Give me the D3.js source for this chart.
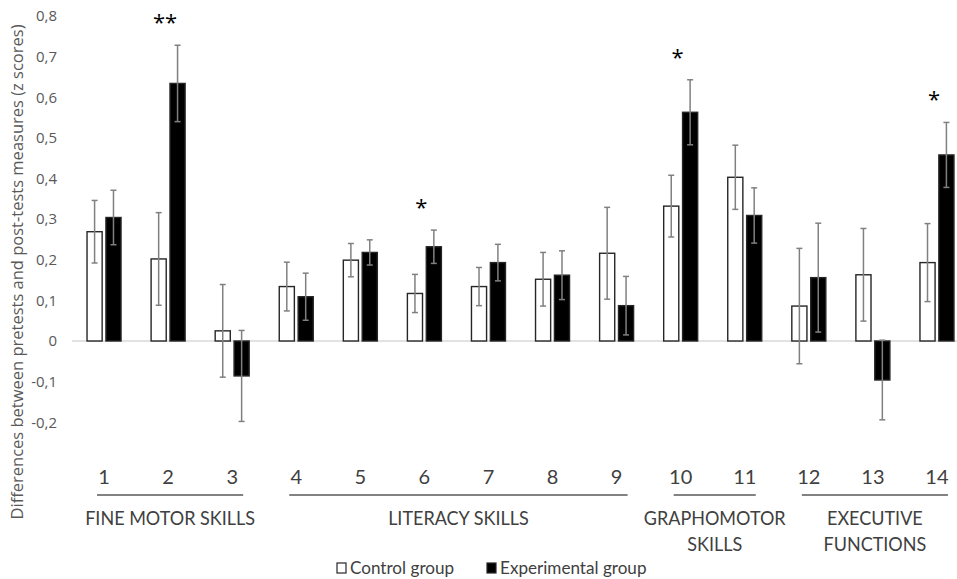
<!DOCTYPE html>
<html>
<head>
<meta charset="utf-8">
<script src="https://cdn.jsdelivr.net/npm/d3@7"></script>
<style>
  body { margin: 0; background: #fff; }
  svg { display: block; }
</style>
</head>
<body>
<div id="chart"></div>
<script>
// valores (z scores)
const categories = ["1", "2", "3", "4", "5", "6", "7", "8", "9", "10", "11", "12", "13", "14"];
const controlMeans = [0.269, 0.202, 0.025, 0.134, 0.199, 0.117, 0.134, 0.152, 0.216, 0.332, 0.403, 0.086, 0.163, 0.193];
const controlErrors = [0.077, 0.114, 0.114, 0.060, 0.041, 0.047, 0.047, 0.066, 0.113, 0.076, 0.079, 0.142, 0.114, 0.096];
const experimentalMeans = [0.304, 0.634, -0.086, 0.109, 0.218, 0.232, 0.193, 0.162, 0.087, 0.563, 0.309, 0.156, -0.096, 0.458];
const experimentalErrors = [0.067, 0.094, 0.112, 0.058, 0.031, 0.041, 0.045, 0.060, 0.072, 0.080, 0.068, 0.134, 0.098, 0.080];
const seriesNames = ["Control group", "Experimental group"];
const yTicks = [-0.2, -0.1, 0, 0.1, 0.2, 0.3, 0.4, 0.5, 0.6, 0.7, 0.8];
const groupLabels = [["FINE MOTOR SKILLS"], ["LITERACY SKILLS"], ["GRAPHOMOTOR", "SKILLS"], ["EXECUTIVE", "FUNCTIONS"]];
const groupFirst = ["1", "4", "10", "12"];
const groupLast = ["3", "9", "11", "14"];
const sigCategories = ["2", "6", "10", "14"];
const sigMarks = ["**", "*", "*", "*"];
const yTitle = "Differences between pretests and post-tests measures (z scores)";

const ancho = 957;
const alto = 579;
const gris = "#595959";

const filas = categories.map((c, i) => ({
	cat: c,
	valores: [
		{ serie: seriesNames[0], media: controlMeans[i], err: controlErrors[i] },
		{ serie: seriesNames[1], media: experimentalMeans[i], err: experimentalErrors[i] }
	]
}));

const x0 = d3.scaleBand()
	.domain(categories)
	.range([72, 969]);

const x1 = d3.scaleBand()
	.domain(seriesNames)
	.range([x0.bandwidth() / 2 - 17, x0.bandwidth() / 2 + 17])
	.paddingInner(0.2);

const yScale = d3.scaleLinear()
	.domain([-0.2, 0.8])
	.range([422.25, 16]);

const color = d3.scaleOrdinal().domain(seriesNames).range(["#ffffff", "#000000"]);

const svg = d3.select("#chart")
	.append("svg")
	.attr("width", ancho)
	.attr("height", alto)
	.attr("viewBox", `0 0 ${ancho} ${alto}`);

svg.append("rect").attr("width", ancho).attr("height", alto).attr("fill", "#fff");

// estrecha un texto para imitar la fuente condensada del original
function estrechar(sel, factor) {
	sel.each(function () {
		const w = this.getComputedTextLength();
		d3.select(this).attr("textLength", w * factor).attr("lengthAdjust", "spacingAndGlyphs");
	});
}

// eje Y, sin linea, con coma decimal
const fmt = v => Math.abs(v) < 1e-9 ? "0" : v.toFixed(1).replace(".", ",");
svg.append("g")
	.attr("transform", "translate(72,0)")
	.call(d3.axisLeft(yScale).tickValues(yTicks).tickFormat(fmt).tickSize(0).tickPadding(15))
	.call(g => g.select(".domain").remove())
	.selectAll("text")
	.attr("fill", gris)
	.style("font-family", "'Open Sans', sans-serif")
	.style("font-size", "15px");

// linea del cero
svg.append("line")
	.attr("x1", 72).attr("x2", ancho)
	.attr("y1", yScale(0)).attr("y2", yScale(0))
	.attr("stroke", "#d9d9d9")
	.attr("stroke-width", 1.5);

const grupos = svg.append("g")
	.selectAll("g")
	.data(filas)
	.join("g")
	.attr("transform", d => `translate(${x0(d.cat)},0)`);

grupos.selectAll("rect")
	.data(d => d.valores)
	.join("rect")
	.attr("x", d => x1(d.serie))
	.attr("y", d => yScale(Math.max(0, d.media)))
	.attr("width", x1.bandwidth())
	.attr("height", d => Math.abs(yScale(d.media) - yScale(0)))
	.attr("fill", d => color(d.serie))
	.attr("stroke", "#262626")
	.attr("stroke-width", 1.4);

// barras de error
const errG = grupos.selectAll("g.err")
	.data(d => d.valores)
	.join("g")
	.attr("class", "err")
	.attr("stroke", "#808080")
	.attr("stroke-width", 1.5);

errG.append("line")
	.attr("x1", d => x1(d.serie) + x1.bandwidth() / 2)
	.attr("x2", d => x1(d.serie) + x1.bandwidth() / 2)
	.attr("y1", d => yScale(d.media + d.err))
	.attr("y2", d => yScale(d.media - d.err));

[1, -1].forEach(s => {
	errG.append("line")
		.attr("x1", d => x1(d.serie) + x1.bandwidth() / 2 - 3)
		.attr("x2", d => x1(d.serie) + x1.bandwidth() / 2 + 3)
		.attr("y1", d => yScale(d.media + s * d.err))
		.attr("y2", d => yScale(d.media + s * d.err));
});

// asteriscos de significacion
sigCategories.forEach((c, i) => {
	const f = filas.find(d => d.cat === c);
	const tope = d3.max(f.valores, v => v.media + v.err);
	svg.append("text")
		.attr("x", x0(c) + x0.bandwidth() / 2 - 3)
		.attr("y", yScale(tope) - 27 + 12)
		.attr("text-anchor", "middle")
		.attr("fill", "#000")
		.style("font-family", "'Open Sans', sans-serif")
		.style("font-size", "22px")
		.text(sigMarks[i]);
});

// eje X con numeros
svg.append("g")
	.attr("transform", "translate(0,462)")
	.call(d3.axisBottom(x0).tickSize(0).tickPadding(8))
	.call(g => g.select(".domain").remove())
	.selectAll("text")
	.attr("fill", "#404040")
	.style("font-family", "Lato, sans-serif")
	.style("font-size", "20px");

// lineas y nombres de grupos
const centro = c => x0(c) + x0.bandwidth() / 2;
groupLabels.forEach((lab, i) => {
	const a = centro(groupFirst[i]) - 7;
	const b = centro(groupLast[i]) + 11;
	svg.append("line")
		.attr("x1", a).attr("x2", b)
		.attr("y1", 495).attr("y2", 495)
		.attr("stroke", "#595959")
		.attr("stroke-width", 1.5);
	lab.forEach((t, j) => {
		svg.append("text")
			.attr("x", (a + b) / 2)
			.attr("y", 525 + j * 26)
			.attr("text-anchor", "middle")
			.attr("fill", "#404040")
			.style("font-family", "Lato, sans-serif")
			.style("font-size", "20px")
			.text(t)
			.call(estrechar, 0.9);
	});
});

// titulo eje Y
svg.append("text")
	.attr("transform", "translate(23,272) rotate(-90)")
	.attr("text-anchor", "middle")
	.attr("fill", gris)
	.style("font-family", "'Open Sans', sans-serif")
	.style("font-size", "16.5px")
	.text(yTitle);

// leyenda
const leyX = [337, 487];
seriesNames.forEach((s, i) => {
	svg.append("rect")
		.attr("x", leyX[i]).attr("y", 563)
		.attr("width", 9).attr("height", 10)
		.attr("fill", color(s))
		.attr("stroke", "#262626")
		.attr("stroke-width", 1.2);
	svg.append("text")
		.attr("x", leyX[i] + 13)
		.attr("y", 574)
		.attr("fill", "#404040")
		.style("font-family", "Lato, sans-serif")
		.style("font-size", "18px")
		.text(s)
		.call(estrechar, 0.95);
});
</script>
</body>
</html>
